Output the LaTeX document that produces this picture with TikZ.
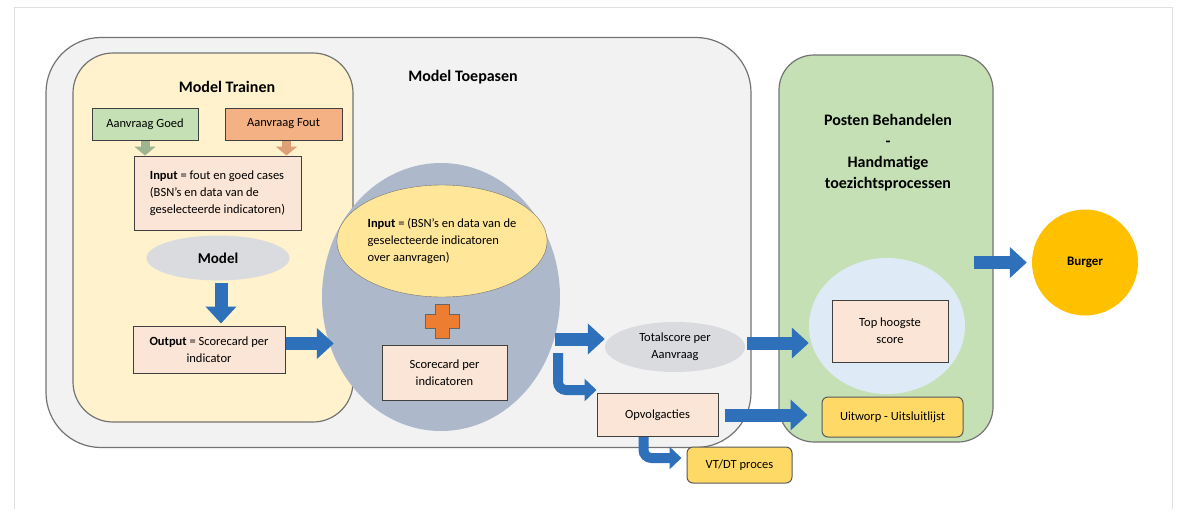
\documentclass[tikz,border=0pt]{standalone}
\usepackage{fontspec}
\setmainfont{Carlito}
\usetikzlibrary{positioning,shapes.geometric,arrows.meta}

\definecolor{toepasgray}{HTML}{F2F2F3}
\definecolor{trainyellow}{HTML}{FFF2CC}
\definecolor{behandelgreen}{HTML}{C5E0B4}
\definecolor{boxpink}{HTML}{FBE5D6}
\definecolor{goedgreen}{HTML}{C5E0B4}
\definecolor{foutorange}{HTML}{F4B183}
\definecolor{ellipsegray}{HTML}{D9DBDF}
\definecolor{scoreblue}{HTML}{ADB9CA}
\definecolor{inputyellow}{HTML}{FFE699}
\definecolor{plusorange}{HTML}{ED7D31}
\definecolor{lightblue}{HTML}{DEEBF7}
\definecolor{burgergold}{HTML}{FFC000}
\definecolor{labelyellow}{HTML}{FFD966}
\definecolor{arrowblue}{HTML}{2E70BA}

\begin{document}
\begin{tikzpicture}
    [ x = 1pt, y = -1pt
    , font = \fontsize{12.5}{17}\selectfont
    , region/.style =
      { draw=black!55, line width=1.2pt }
    , title/.style =
      { font=\fontsize{16}{21}\selectfont\bfseries, align=center }
    , box/.style =
      { draw=black!75, fill=boxpink, line width=1pt }
    , label/.style =
      { draw=black!65, fill=labelyellow, line width=1pt, rounded corners=6pt }
    , blob/.style =
      { ellipse, inner sep=0pt }
    , bluearrow/.style =
      { draw=arrowblue, line width=13pt, -{Triangle[width=30pt,length=17pt]} }
    , bendarrow/.style =
      { draw=arrowblue, line width=10pt, rounded corners=8pt
      , -{Triangle[width=22pt,length=12pt]} }
    , feedarrow/.style =
      { line width=9pt, -{Triangle[width=21pt,length=9pt]} }
    ]
    \useasboundingbox (0,0) rectangle (1180,509);
    \draw [black!12, line width=1pt] (14,509) |- (1172,7) -- (1172,509);

    \node [region, fill=toepasgray, rounded corners=55pt, minimum width=705pt, minimum height=410pt] (toepassen) at (398.5,242.5) {};
    \node [title] (toepastitle) at (463,77) {Model Toepasen};

    \node [region, fill=trainyellow, rounded corners=40pt, minimum width=280pt, minimum height=369pt] (trainen) at (213,237.5) {};
    \node [title] (trainentitle) at (227,87) {Model Trainen};
    \node [box, fill=goedgreen, minimum width=106pt, minimum height=32pt] (goed) at (145,124) {Aanvraag Goed};
    \node [box, fill=foutorange, minimum width=117pt, minimum height=32pt] (fout) at (283.5,124) {Aanvraag Fout};
    \node [box, minimum width=167pt, minimum height=74pt, align=left] (input) at (217.5,193)
      {\textbf{Input} = fout en goed cases\\(BSN's en data van de\\geselecteerde indicatoren)};
    \node [blob, fill=ellipsegray, minimum width=143pt, minimum height=45pt, font=\fontsize{15}{18}\selectfont\bfseries] (model) at (218,258) {Model};
    \node [box, minimum width=152pt, minimum height=47pt, align=center] (output) at (209,349.5)
      {\textbf{Output} = Scorecard per\\indicator};

    \node [blob, fill=scoreblue, minimum width=238pt, minimum height=268pt] (scoring) at (441,297) {};
    \node [blob, draw=black!55, fill=inputyellow, minimum width=190pt, minimum height=112pt, align=left] (vraag) at (442,241)
      {\textbf{Input} = (BSN's en data van de\\geselecteerde indicatoren\\over aanvragen)};
    \coordinate (plus) at (442,321);
    \draw [draw=black!60, fill=plusorange, line width=.8pt] (plus)
      ++(-7,-17) -- ++(14,0) -- ++(0,10) -- ++(10,0) -- ++(0,14) -- ++(-10,0)
      -- ++(0,10) -- ++(-14,0) -- ++(0,-10) -- ++(-10,0) -- ++(0,-14) -- ++(10,0) -- cycle;
    \node [box, minimum width=125pt, minimum height=55pt, align=center] (scorecard) at (444.5,372.5)
      {Scorecard per\\indicatoren};

    \node [blob, fill=ellipsegray, minimum width=140pt, minimum height=50pt, align=center] (totaal) at (675,347)
      {Totalscore per\\Aanvraag};
    \node [box, minimum width=121pt, minimum height=43pt] (opvolg) at (657.5,415) {Opvolgacties};
    \node [label, minimum width=105pt, minimum height=36pt] (vtdt) at (739.5,465) {VT/DT proces};

    \node [region, fill=behandelgreen, rounded corners=35pt, minimum width=214pt, minimum height=387pt] (behandelen) at (886,248.5) {};
    \node [title] (behandeltitle) at (888,153)
      {Posten Behandelen\\-\\Handmatige\\toezichtsprocessen};
    \node [blob, fill=lightblue, minimum width=156pt, minimum height=136pt] (topzone) at (887,326) {};
    \node [box, minimum width=116pt, minimum height=62pt, align=center] (top) at (890,331)
      {Top hoogste\\score};
    \node [label, minimum width=141pt, minimum height=40pt] (uitworp) at (892.5,417) {Uitworp - Uitsluitlijst};

    \node [circle, fill=burgergold, minimum size=106pt, font=\fontsize{13}{16}\selectfont\bfseries] (burger) at (1085,262.5) {Burger};

    \draw [feedarrow, draw=goedgreen!80!black] (goed.south) -- (goed.south |- input.north);
    \draw [feedarrow, draw=foutorange!90!black] ([xshift=3pt]fout.south) -- ([xshift=3pt]fout.south |- input.north);
    \draw [bluearrow, shorten <=2pt, shorten >=2pt] ([xshift=3pt]model.south) -- ([xshift=3pt]model.south |- output.north);
    \draw [bluearrow, shorten >=-12pt] ([yshift=6pt]output.east) -- ([yshift=6pt]output.east -| scoring.west);
    \coordinate (split) at (555,339);
    \coordinate (fork) at (558,353);
    \draw [bluearrow] (split) -- (split -| totaal.west);
    \draw [bendarrow] (fork) |- ([yshift=3pt]opvolg.north west);
    \draw [bendarrow, shorten >=5pt] ([xshift=-14pt]opvolg.south) |- ([yshift=7pt]vtdt.west);
    \draw [bluearrow, shorten <=2pt] ([yshift=4pt]totaal.east) -- ([yshift=4pt]totaal.east -| topzone.west);
    \draw [bluearrow, shorten <=6pt, shorten >=14pt] (opvolg.east) -- (opvolg.east -| uitworp.west);
    \draw [bluearrow, shorten >=5pt] ([xshift=-20pt]behandelen.east |- burger.west) -- (burger.west);
\end{tikzpicture}
\end{document}
